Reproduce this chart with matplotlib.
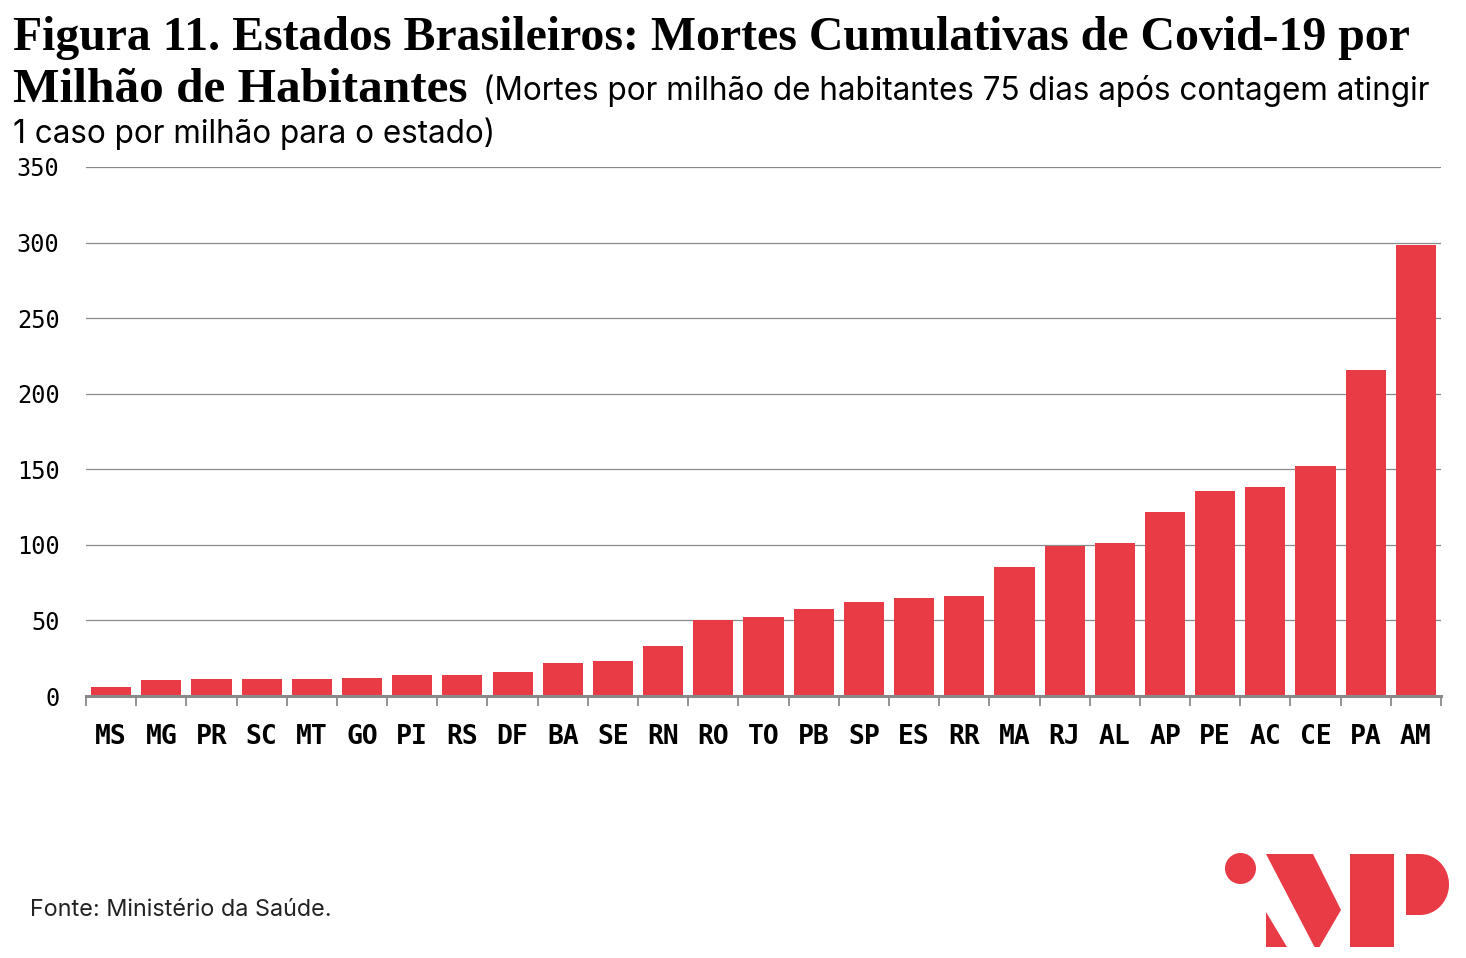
import numpy as np
import matplotlib
matplotlib.use('Agg')
import matplotlib.pyplot as plt
from matplotlib.patches import Polygon, Circle, Rectangle

estados = ['MS', 'MG', 'PR', 'SC', 'MT', 'GO', 'PI', 'RS', 'DF', 'BA', 'SE', 'RN', 'RO',
           'TO', 'PB', 'SP', 'ES', 'RR', 'MA', 'RJ', 'AL', 'AP', 'PE', 'AC', 'CE', 'PA', 'AM']
mortes = [5.8, 10.4, 11.2, 11.2, 11.2, 11.9, 13.6, 13.6, 15.6, 21.6, 23.0, 32.8, 50.6,
          52.0, 57.3, 62.0, 64.6, 66.0, 85.2, 99.1, 101.0, 121.6, 135.5, 138.1, 152.0,
          215.4, 298.2]
yticks = [0, 50, 100, 150, 200, 250, 300, 350]

RED = '#E93B46'
GRAY = '#8a8a8a'
W, H = 1466, 958

fig = plt.figure(figsize=(W / 100, H / 100), dpi=100)
ax = fig.add_axes([86 / W, 1 - 696 / H, (1441 - 86) / W, (696 - 167) / H])

x = np.arange(len(estados))
ax.bar(x, mortes, width=0.8, color=RED, zorder=3)
ax.set_xlim(-0.5, len(estados) - 0.5)
ax.set_ylim(0, 350)

ax.set_yticks(yticks)
ax.set_yticklabels([str(v) for v in yticks], family='DejaVu Sans Mono', fontsize=17)
ax.tick_params(axis='y', length=0, pad=19)
for v in yticks[1:]:
    ax.axhline(v, color=GRAY, lw=0.9, zorder=1)

ax.set_xticks(x)
ax.set_xticklabels(estados, family='DejaVu Sans Mono', fontweight='bold', fontsize=19)
ax.tick_params(axis='x', which='major', length=0, pad=20)
ax.set_xticks(np.arange(-0.5, len(estados)), minor=True)
ax.tick_params(axis='x', which='minor', length=7, width=1.3, color=GRAY, direction='out')

for s in ['top', 'right', 'left']:
    ax.spines[s].set_visible(False)
ax.spines['bottom'].set_color(GRAY)
ax.spines['bottom'].set_linewidth(2.2)
ax.spines['bottom'].set_zorder(4)

# textos do cabeçalho
fig.canvas.draw()
r = fig.canvas.get_renderer()


def fit(t, target):
    w = t.get_window_extent(r).width
    t.set_fontsize(t.get_fontsize() * target / w)
    return t


t1 = fig.text(13 / W, 1 - 50 / H, 'Figura 11. Estados Brasileiros: Mortes Cumulativas de Covid-19 por',
              family='Liberation Serif', fontweight='bold', fontsize=30, va='baseline')
fit(t1, 1395)
t2 = fig.text(13 / W, 1 - 102 / H, 'Milhão de Habitantes',
              family='Liberation Serif', fontweight='bold', fontsize=t1.get_fontsize(), va='baseline')
fit(t2, 454)
t3 = fig.text(483 / W, 1 - 100 / H, '(Mortes por milhão de habitantes 75 dias após contagem atingir',
              family='Inter', fontsize=20, va='baseline')
fit(t3, 947)
fig.text(13 / W, 1 - 143 / H, '1 caso por milhão para o estado)',
         family='Inter', fontsize=t3.get_fontsize(), va='baseline')

t5 = fig.text(30 / W, 1 - 916 / H, 'Fonte: Ministério da Saúde.', family='Inter', fontsize=16,
              va='baseline', color='#222222')
fit(t5, 303)

# logo
lg = fig.add_axes([0, 0, 1, 1], zorder=-1)
lg.set_xlim(0, W)
lg.set_ylim(H, 0)
lg.axis('off')
lg.add_patch(Circle((1240.5, 868.5), 15.5, color=RED, lw=0))
lg.add_patch(Polygon([(1266, 854), (1313, 854), (1341, 910), (1319.5, 947), (1314.5, 947)],
                     closed=True, color=RED, lw=0))
lg.add_patch(Polygon([(1266, 911.5), (1266, 947), (1287, 947)], closed=True, color=RED, lw=0))
lg.add_patch(Rectangle((1350, 854), 43.5, 93, color=RED, lw=0))
ang = np.linspace(-np.pi / 2, np.pi / 2, 60)
bowl = [(1406, 854)] + [(1420 + 29 * np.cos(a), 884.5 + 30.5 * np.sin(a)) for a in ang] + [(1406, 915)]
lg.add_patch(Polygon(bowl, closed=True, color=RED, lw=0))

fig.savefig('out.png', dpi=100)
